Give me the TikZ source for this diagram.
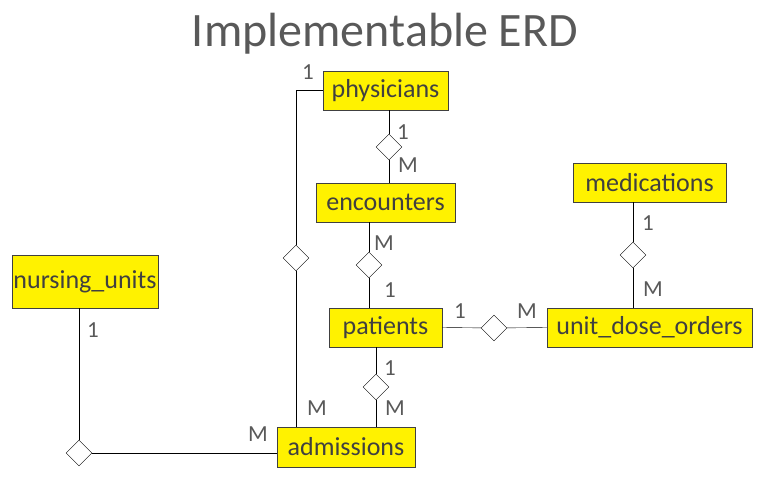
\documentclass[tikz,border=0pt]{standalone}
\usepackage{fontspec}
\setmainfont{Carlito}
\usetikzlibrary{shapes.geometric}
\definecolor{boxtext}{RGB}{64,64,64}
\definecolor{cardgray}{RGB}{89,89,89}
\begin{document}
\begin{tikzpicture}[
        x=1pt, y=-1pt,
        entity/.style={draw=boxtext, fill=yellow, text=boxtext, inner sep=0pt,
            minimum height=39pt, font=\fontsize{26}{26}\selectfont},
        rel/.style={draw=black, fill=white, diamond, aspect=1, inner sep=0pt,
            minimum size=26pt},
        card/.style={text=cardgray, inner sep=0pt, font=\fontsize{23}{23}\selectfont},
        every path/.style={thin}
    ]
        \useasboundingbox (0,0) rectangle (779,483);
        \node[text=cardgray, font=\fontsize{48}{48}\selectfont] (title) at (385,34)
            {Implementable ERD};

        % entities
        \node[entity, minimum width=125pt] (physicians) at (385.5,90.5) {physicians};
        \node[entity, minimum width=139pt] (encounters) at (385.5,202.5) {encounters};
        \node[entity, minimum width=153pt] (medications) at (649.5,182.5) {medications};
        \node[entity, minimum width=146pt, minimum height=53pt] (nursing) at (85,281.5)
            {nursing\_units};
        \node[entity, minimum width=113pt] (patients) at (385.5,327.5) {patients};
        \node[entity, minimum width=205pt] (udo) at (649.5,327.5) {unit\_dose\_orders};
        \node[entity, minimum width=138pt, minimum height=40pt] (admissions) at (346,447)
            {admissions};

        % relationships
        \node[rel] (physEnc) at (389,147) {};
        \node[rel] (encPat) at (369,265) {};
        \node[rel] (patAdm) at (376,387) {};
        \node[rel] (physAdm) at (296,258) {};
        \node[rel] (medUdo) at (633,255) {};
        \node[rel] (patUdo) at (494,328) {};
        \node[rel] (nursAdm) at (79,453) {};

        \draw (physEnc |- physicians.south) -- (physEnc) -- (physEnc |- encounters.north);
        \draw (encPat |- encounters.south) -- (encPat) -- (encPat |- patients.north);
        \draw (patAdm |- patients.south) -- (patAdm) -- (patAdm |- admissions.north);
        \draw (physicians.west) -| (physAdm) -- (physAdm |- admissions.north);
        \draw (medUdo |- medications.south) -- (medUdo) -- (medUdo |- udo.north);
        \draw (patients.east) -- (patUdo) -- (udo.west);
        \draw (nursAdm |- nursing.south) -- (nursAdm) -- (nursAdm -| admissions.west);

        % cardinalities
        \node[card] (c1) at (308,72) {1};
        \node[card] (c2) at (403,132) {1};
        \node[card] (c3) at (408,165) {M};
        \node[card] (c4) at (384,243) {M};
        \node[card] (c5) at (390,290) {1};
        \node[card] (c6) at (390,368) {1};
        \node[card] (c7) at (395,408) {M};
        \node[card] (c8) at (317,408) {M};
        \node[card] (c9) at (648,223) {1};
        \node[card] (c10) at (653,289) {M};
        \node[card] (c11) at (460,311) {1};
        \node[card] (c12) at (527,311) {M};
        \node[card] (c13) at (93,330) {1};
        \node[card] (c14) at (258,434) {M};
    \end{tikzpicture}
\end{document}
